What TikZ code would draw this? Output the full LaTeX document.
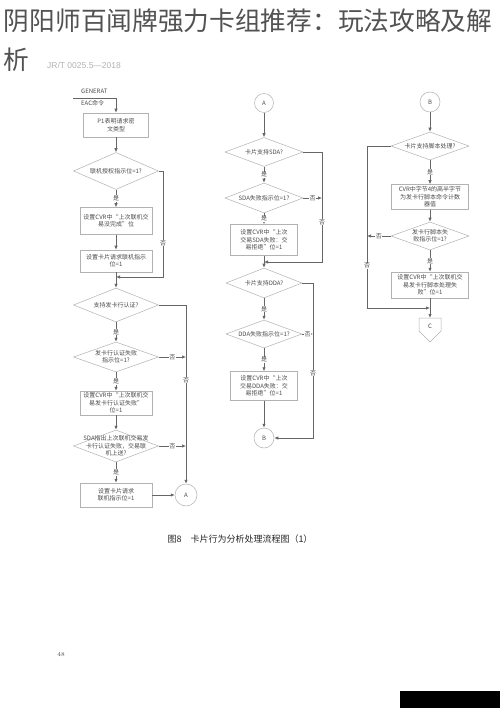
\documentclass[tikz,border=0pt]{standalone}
\usepackage{fontspec}
\usetikzlibrary{shapes.geometric,arrows.meta,calc}
\newfontfamily\cjk{Noto Sans CJK SC}
\newfontfamily\lsans{Liberation Sans}
\newcommand\flowfont{\cjk\fontsize{6}{7.4}\selectfont}

\begin{document}
\begin{tikzpicture}[x=1pt, y=-1pt,
    proc/.style={draw=black!30, line width=.5pt, align=center, font=\flowfont, text=black!70,
        inner sep=1pt, minimum width=72pt, minimum height=24pt},
    decide/.style={diamond, draw=black!30, line width=.5pt, inner sep=0pt,
        minimum width=85pt, minimum height=32pt},
    dtext/.style={align=center, font=\flowfont, text=black!70, inner sep=0pt},
    conn/.style={circle, draw=black!30, line width=.5pt, minimum size=20pt, inner sep=0pt,
        font=\flowfont, text=black!70},
    flow/.style={draw=black!60, line width=.7pt},
    arr/.style={flow, -{Latex[length=4pt,width=3.4pt]}},
    tag/.style={fill=white, inner sep=.5pt, font=\flowfont, text=black!70}]

    \useasboundingbox (0,0) rectangle (500,708);
    \fill[white] (0,0) rectangle (500,708);

    % Title
    \node[anchor=base west, inner sep=0pt, font=\cjk\fontsize{25.7}{30}\selectfont, text=black!68]
        (title) at (3.7,31) {阴阳师百闻牌强力卡组推荐：玩法攻略及解};
    \node[anchor=base west, inner sep=0pt, font=\cjk\fontsize{25.7}{30}\selectfont, text=black!68]
        (title2) at (3.7,69.5) {析};
    \node[anchor=west, inner sep=0pt, font=\lsans\fontsize{8.5}{10}\selectfont, text=black!30]
        (std) at (47,65) {JR/T 0025.5—2018};

    % Left column
    \coordinate (gin) at (73,98);
    \node[anchor=west, inner sep=0pt, font=\flowfont, text=black!70] (gtxt) at (81,91) {GENERAT};
    \node[anchor=west, inner sep=0pt, font=\flowfont, text=black!70] (etxt) at (81,103) {EAC命令};
    \node[proc, minimum width=65pt] (b1) at (116,125) {P1表明请求密\\文类型};
    \node[decide, minimum height=37pt, label={[dtext]center:{联机授权指示位=1?}}] (d1) at (116,171) {};
    \node[proc, minimum height=27pt] (b2) at (116,221) {设置CVR中“上次联机交\\易没完成”位};
    \node[proc, minimum height=22pt] (b3) at (116,261) {设置卡片请求联机指示\\位=1};
    \coordinate (r1) at (163,171);
    \coordinate (m1) at (116,277);
    \node[decide, minimum height=34pt, label={[dtext]center:{支持发卡行认证?}}] (d2) at (116,305) {};
    \node[decide, minimum height=30pt, label={[dtext]center:{发卡行认证失败\\指示位=1?}}] (d3) at (116,357) {};
    \node[proc] (b4) at (116,403) {设置CVR中“上次联机交\\易发卡行认证失败”\\位=1};
    \node[decide, label={[dtext]center:{SDA指出上次联机交易发\\卡行认证失败，交易联\\机上送?}}] (d4) at (116,446) {};
    \node[proc] (b5) at (116,495) {设置卡片请求\\联机指示位=1};
    \node[conn, minimum size=22pt] (A1) at (186,495) {A};

    \draw[arr] (gin) -| (b1.north);
    \draw[arr] (b1) -- (d1);
    \draw[arr] (d1) -- node[tag]{是} (b2);
    \draw[arr] (b2) -- (b3);
    \draw[arr] (b3) -- (d2);
    \draw[arr] (d1.east) -- (r1) |- node[tag, pos=.34]{否} (m1);
    \draw[arr] (d2) -- node[tag]{是} (d3);
    \draw[arr] (d3) -- node[tag]{是} (b4);
    \draw[arr] (b4) -- (d4);
    \draw[arr] (d4) -- node[tag]{是} (b5);
    \draw[arr] (b5) -- (A1);
    \draw[arr] (d2.east) -| node[tag, pos=.71]{否} (A1.north);
    \draw[arr] (d3.east) -- node[tag]{否} (d3.east -| A1);
    \draw[arr] (d4.east) -- node[tag]{否} (d4.east -| A1);

    % Middle column
    \node[conn, minimum size=19pt] (A2) at (264,103) {A};
    \node[decide, minimum width=78pt, minimum height=29pt, label={[dtext]center:{卡片支持SDA?}}] (d5) at (264,152) {};
    \node[decide, minimum width=78pt, minimum height=30pt, label={[dtext]center:{SDA失败指示位=1?}}] (d6) at (264,198) {};
    \node[proc, minimum width=67pt, minimum height=31pt] (b6) at (264,240) {设置CVR中“上次\\交易SDA失败：交\\易拒绝”位=1};
    \coordinate (r5) at (322,152);
    \coordinate (m2) at (264,262);
    \node[decide, minimum width=76pt, minimum height=30pt, label={[dtext]center:{卡片支持DDA?}}] (d7) at (264,283) {};
    \node[decide, minimum width=76pt, minimum height=28pt, label={[dtext]center:{DDA失败指示位=1?}}] (d8) at (264,334) {};
    \node[proc, minimum width=67pt, minimum height=29pt] (b7) at (264,386) {设置CVR中“上次\\交易DDA失败：交\\易拒绝”位=1};
    \coordinate (r7) at (313,283);
    \node[conn] (B2) at (264,438) {B};

    \draw[arr] (A2) -- (d5);
    \draw[arr] (d5) -- node[tag]{是} (d6);
    \draw[arr] (d6) -- node[tag]{是} (b6);
    \draw[arr] (b6) -- (d7);
    \draw[arr] (d5.east) -- (r5) |- node[tag, pos=.32]{否} (m2);
    \draw[arr] (d6.east) -- node[tag]{否} (d6.east -| r5);
    \draw[arr] (d7) -- node[tag]{是} (d8);
    \draw[arr] (d8) -- node[tag]{是} (b7);
    \draw[arr] (b7) -- (B2);
    \draw[arr] (d7.east) -- (r7) |- node[tag, pos=.29]{否} (B2.east);
    \draw[arr] (d8.east) -- node[tag]{否} (d8.east -| r7);

    % Right column
    \node[conn] (B1) at (430,102) {B};
    \node[decide, minimum width=78pt, minimum height=28pt, label={[dtext]center:{卡片支持脚本处理?}}] (d9) at (430,146) {};
    \node[proc, minimum width=77pt, minimum height=25pt] (b8) at (430,197) {CVR中字节4的高半字节\\为发卡行脚本命令计数\\器值};
    \node[decide, minimum width=78pt, minimum height=28pt, label={[dtext]center:{发卡行脚本失\\败指示位=1?}}] (d10) at (430,236) {};
    \node[proc, minimum width=77pt, minimum height=26pt] (b9) at (430,285) {设置CVR中“上次联机交\\易发卡行脚本处理失\\败”位=1};
    \coordinate (l9) at (367,146);
    \coordinate (m3) at (430,308);
    \coordinate (ctop) at (430,318);
    \draw[draw=black!30, line width=.5pt] (419,318) -- (441,318) -- (441,331) -- (430,342) -- (419,331) -- cycle;
    \node[font=\flowfont, text=black!70, inner sep=0pt] (C) at (430,326) {C};

    \draw[arr] (B1) -- (d9);
    \draw[arr] (d9) -- node[tag]{是} (b8);
    \draw[arr] (b8) -- (d10);
    \draw[arr] (d10) -- node[tag]{是} (b9);
    \draw[arr] (b9) -- (ctop);
    \draw[arr] (d9.west) -- (l9) |- node[tag, pos=.37]{否} (m3);
    \draw[arr] (d10.west) -- node[tag]{否} (d10.west -| l9);

    % Caption and page
    \node[font=\cjk\fontsize{9}{10}\selectfont, text=black!85] (cap) at (240,539) {图8\quad 卡片行为分析处理流程图（1）};
    \node[font=\fontsize{6}{7}\selectfont, text=black!70] (pg) at (61,655) {48};
    \fill[black] (400,691) rectangle (500,708);
\end{tikzpicture}
\end{document}
